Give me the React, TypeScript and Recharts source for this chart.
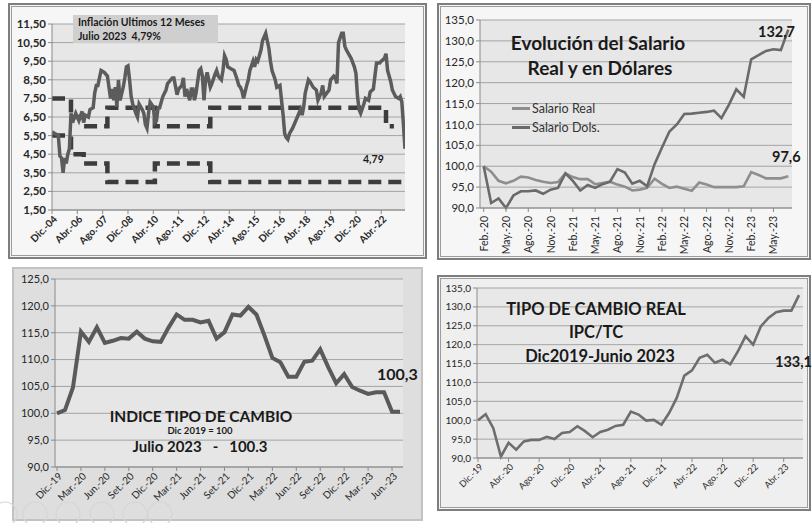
import React from 'react';
import { LineChart, Line, XAxis, YAxis, CartesianGrid, Legend } from 'recharts';

const FONT = 'Lato, "Open Sans", "DejaVu Sans", sans-serif';

// ---------- month category helper ----------
const MONTHS_ES = ['Ene.', 'Feb.', 'Mar.', 'Abr.', 'May.', 'Jun.', 'Jul.', 'Ago.', 'Set.', 'Oct.', 'Nov.', 'Dic.'];
function monthSeq(startMonth: number, startYear: number, count: number): string[] {
  const out: string[] = [];
  for (let k = 0; k < count; k++) {
    const mm = (startMonth + k) % 12;
    const yy = startYear + Math.floor((startMonth + k) / 12);
    out.push(`${MONTHS_ES[mm]}-${String(yy % 100).padStart(2, '0')}`);
  }
  return out;
}

// ---------- Panel A: Inflación últimos 12 meses (month index from Dic-04) ----------
const inflMonthIdx = [0, 2, 4, 5, 6, 7, 8, 9, 10, 11, 12, 13, 15, 17, 19, 20, 21, 23, 24, 26, 27, 28, 29, 31, 33, 35, 37, 38, 39, 40, 41, 42, 43, 45, 46, 47, 48, 49, 50, 51, 53, 54, 55, 57, 58, 59, 60, 61, 62, 64, 65, 66, 67, 68, 70, 72, 73, 76, 77, 79, 80, 82, 83, 84, 85, 87, 88, 89, 90, 91, 93, 94, 95, 96, 97, 98, 100, 101, 103, 104, 105, 107, 108, 109, 110, 111, 113, 115, 117, 118, 119, 120, 121, 123, 124, 125, 127, 128, 129, 130, 132, 133, 135, 136, 137, 138, 139, 141, 142, 144, 145, 146, 147, 148, 149, 150, 152, 155, 157, 158, 159, 160, 162, 163, 165, 167, 168, 170, 171, 172, 175, 176, 178, 179, 180, 181, 183, 184, 185, 186, 188, 189, 191, 192, 193, 194, 195, 197, 198, 200, 201, 203, 204, 205, 207, 208, 210, 211, 212, 214, 215, 217, 219, 220, 221, 222, 223];
const inflValue = [5.7, 5.6, 5.5, 4.4, 4.3, 3.5, 4.3, 4.0, 4.5, 4.8, 6.7, 6.2, 6.7, 6.3, 6.8, 6.2, 6.6, 6.5, 6.9, 7.0, 7.8, 8.2, 8.2, 9.0, 8.9, 8.7, 7.5, 8.0, 7.4, 8.1, 7.05, 8.5, 7.4, 8.1, 8.6, 9.2, 9.25, 8.5, 7.6, 7.2, 6.7, 6.5, 7.2, 6.9, 6.7, 6.1, 5.9, 6.7, 7.3, 7.05, 6.2, 6.3, 7.0, 7.0, 7.6, 7.95, 8.3, 8.6, 8.6, 7.7, 8.0, 8.2, 8.6, 7.6, 8.0, 7.4, 8.0, 8.0, 7.4, 7.8, 9.0, 9.1, 8.7, 7.4, 8.5, 8.9, 8.1, 8.3, 8.8, 9.0, 8.7, 8.5, 9.0, 9.8, 9.6, 9.2, 9.1, 9.0, 8.5, 8.2, 8.1, 7.9, 7.5, 8.2, 8.5, 9.0, 9.5, 9.2, 9.6, 9.5, 10.1, 10.6, 11.0, 10.6, 10.2, 9.5, 9.0, 8.5, 8.1, 8.2, 7.4, 6.6, 5.6, 5.4, 5.3, 5.6, 5.9, 6.5, 6.9, 6.6, 7.05, 7.8, 8.5, 8.4, 8.1, 7.95, 7.4, 7.8, 8.2, 7.6, 7.95, 8.5, 8.7, 8.6, 8.3, 10.5, 11.0, 11.0, 10.3, 10.1, 9.8, 9.65, 9.2, 8.85, 7.6, 6.9, 6.7, 7.2, 7.5, 7.4, 7.85, 8.0, 8.7, 9.4, 9.4, 9.5, 9.65, 9.9, 9.0, 8.4, 7.95, 7.6, 7.5, 7.6, 7.3, 6.1, 4.79];
const targetUpperMonthIdx = [0, 12, 20, 35, 65, 100, 211, 216];
const targetUpperValue = [7.5, 6.5, 6.0, 7.0, 6.0, 7.0, 6.0, 6.0];
const targetLowerMonthIdx = [0, 12, 20, 35, 65, 100, 223];
const targetLowerValue = [5.5, 4.5, 4.0, 3.0, 4.0, 3.0, 3.0];
const inflTickIdx = [0, 16, 32, 48, 64, 80, 96, 112, 128, 144, 160, 176, 192, 208];
const inflTickLabels = ['Dic.-04', 'Abr.-06', 'Ago.-07', 'Dic.-08', 'Abr.-10', 'Ago.-11', 'Dic.-12', 'Abr.-14', 'Ago.-15', 'Dic.-16', 'Abr.-18', 'Ago.-19', 'Dic.-20', 'Abr.-22'];
const inflYTicks = [1.5, 2.5, 3.5, 4.5, 5.5, 6.5, 7.5, 8.5, 9.5, 10.5, 11.5];

// ---------- Panel B: Salario real y en dólares (Feb-20 .. Jul-23) ----------
const salMonths = monthSeq(1, 2020, 42);
const salarioReal = [100, 98.7, 96.5, 95.9, 96.5, 97.5, 97.3, 96.7, 96.3, 96.0, 96.2, 98.3, 97.4, 96.9, 96.9, 95.7, 96.0, 96.3, 95.6, 95.1, 94.2, 94.4, 94.8, 97.0, 95.8, 94.8, 95.1, 94.6, 94.1, 96.1, 95.6, 95.0, 95.0, 95.0, 95.0, 95.2, 98.6, 97.9, 97.1, 97.1, 97.1, 97.6];
const salarioDols = [100, 91.2, 92.3, 90.0, 93.0, 94.0, 94.0, 94.2, 93.4, 94.4, 94.8, 98.3, 96.5, 94.2, 95.5, 94.8, 95.7, 96.3, 99.3, 98.5, 95.8, 96.5, 95.2, 100.5, 104.5, 108.3, 110.0, 112.5, 112.6, 112.8, 113.0, 113.3, 111.5, 114.7, 118.4, 116.6, 125.6, 126.6, 127.6, 128.0, 127.8, 132.7];
const salYTicks = [90, 95, 100, 105, 110, 115, 120, 125, 130, 135];
const salSeriesNames = ['Salario Real', 'Salario Dols.'];

// ---------- Panel C: Indice tipo de cambio (Dic-19 .. Jul-23) ----------
const itcMonths = monthSeq(11, 2019, 44);
const itcValue = [100.0, 100.6, 104.8, 115.2, 113.3, 116.0, 113.1, 113.5, 114.0, 113.9, 115.2, 113.9, 113.4, 113.3, 116.0, 118.4, 117.4, 117.4, 116.9, 117.2, 113.9, 115.1, 118.4, 118.2, 119.8, 118.4, 114.5, 110.3, 109.5, 106.8, 106.8, 109.6, 109.8, 111.9, 108.6, 105.6, 107.3, 104.9, 104.2, 103.6, 103.9, 103.9, 100.3, 100.3];
const itcYTicks = [90, 95, 100, 105, 110, 115, 120, 125];

// ---------- Panel D: Tipo de cambio real (Dic-19 .. Jun-23) ----------
const tcrMonths = monthSeq(11, 2019, 43);
const tcrValue = [100.0, 101.6, 97.9, 90.4, 94.0, 92.2, 94.4, 94.8, 94.8, 95.6, 95.0, 96.6, 96.9, 98.4, 97.1, 95.5, 96.9, 97.5, 98.5, 98.8, 102.3, 101.5, 99.9, 100.1, 98.8, 101.9, 105.9, 111.8, 113.2, 116.5, 117.3, 115.2, 116.0, 114.8, 118.2, 122.2, 120.0, 124.8, 127.1, 128.6, 129.0, 129.0, 133.1];
const tcrYTicks = [90, 95, 100, 105, 110, 115, 120, 125, 130, 135];

// ---------- derived tables ----------
const inflData = inflMonthIdx.map((m, k) => ({ m, v: inflValue[k] }));
const upperData = targetUpperMonthIdx.map((m, k) => ({ m, v: targetUpperValue[k] }));
const lowerData = targetLowerMonthIdx.map((m, k) => ({ m, v: targetLowerValue[k] }));
const salData = salMonths.map((mes, k) => ({ mes, real: salarioReal[k], dols: salarioDols[k] }));
const itcData = itcMonths.map((mes, k) => ({ mes, v: itcValue[k] }));
const tcrData = tcrMonths.map((mes, k) => ({ mes, v: tcrValue[k] }));

const AXIS = '#8a8a8a';
const GRID = '#a4a4a4';

function RotTick(props: any) {
  const { x, y, payload, fs, fw, fmt, dx = 0, dy = 0 } = props;
  const ax = x + dx;
  const ay = y + dy;
  const txt = fmt ? fmt(payload.value) : payload.value;
  return (
    <text x={ax} y={ay} transform={`rotate(-45 ${ax} ${ay})`} textAnchor="end" dominantBaseline="central"
      fontSize={fs} fontWeight={fw} fill="#262626" fontFamily={FONT}>{txt}</text>
  );
}

function VertTick(props: any) {
  const { x, y, payload } = props;
  const ay = y + 2;
  return (
    <text x={x} y={ay} transform={`rotate(-90 ${x} ${ay})`} textAnchor="end" dominantBaseline="central"
      fontSize={10.5} fill="#262626" fontFamily={FONT}>{payload.value}</text>
  );
}

function SalLegend(props: any) {
  const items = [...(props.payload || [])].sort(
    (a: any, b: any) => salSeriesNames.indexOf(a.value) - salSeriesNames.indexOf(b.value));
  return (
    <div style={{ fontFamily: FONT, fontSize: 12.5, color: '#333' }}>
      {items.map((it: any) => (
        <div key={it.value} style={{ display: 'flex', alignItems: 'center', height: 19, whiteSpace: 'nowrap' }}>
          <span style={{ display: 'inline-block', width: 18, height: 3, background: it.color, marginRight: 2 }} />
          {it.value}
        </div>
      ))}
    </div>
  );
}

function Panel({ x, y, w, h, bg, plain }: { x: number; y: number; w: number; h: number; bg: string; plain?: boolean }) {
  return (
    <div style={{
      position: 'absolute', left: x, top: y, width: w, height: h, boxSizing: 'border-box',
      border: plain ? '2px solid #c2c2c2' : '2px solid #7e7e7e', background: bg,
      boxShadow: plain ? 'none' : 'inset 0 0 0 1px #f6f6f6, inset 0 0 0 2px #9c9c9c',
    }} />
  );
}

const fmt2 = (v: number) => v.toFixed(2).replace('.', ',');
const fmt1 = (v: number) => v.toFixed(1).replace('.', ',');

export default function App() {
  return (
    <div style={{ position: 'absolute', left: 0, top: 0, width: 812, height: 523, background: '#ffffff', overflow: 'hidden', fontFamily: FONT }}>
      <Panel x={8} y={3} w={419} h={256} bg="#f6f6f6" />
      <Panel x={437} y={3} w={374} h={257} bg="#f6f6f6" />
      <Panel x={12} y={267} w={411} h={254} bg="#dedede" plain />
      <Panel x={437} y={275} w={374} h={236} bg="#efefef" />

      {/* Panel A */}
      <div style={{ position: 'absolute', left: 8, top: 3 }}>
        <LineChart width={419} height={255} margin={{ top: 21, right: 22, left: 0, bottom: 0 }}>
          <CartesianGrid vertical={false} stroke={GRID} fill="#e7e7e7" fillOpacity={1} />
          <XAxis type="number" dataKey="m" domain={[0, 223]} ticks={inflTickIdx} interval={0} height={48}
            allowDataOverflow stroke={AXIS} tickSize={4}
            tick={(p: any) => <RotTick {...p} fs={10} fw={700} dx={3} dy={1}
              fmt={(v: number) => inflTickLabels[inflTickIdx.indexOf(v)]} />} />
          <YAxis type="number" domain={[1.5, 11.5]} ticks={inflYTicks} interval={0} width={44} stroke={AXIS} tickSize={4}
            tickFormatter={fmt2} tick={{ fontSize: 11.5, fontWeight: 700, fill: '#262626', fontFamily: FONT }} />
          <Line data={upperData} dataKey="v" type="stepAfter" stroke="#3c3c3c" strokeWidth={4.5}
            strokeDasharray="13 7" dot={false} isAnimationActive={false} />
          <Line data={lowerData} dataKey="v" type="stepAfter" stroke="#3c3c3c" strokeWidth={4.5}
            strokeDasharray="13 7" dot={false} isAnimationActive={false} />
          <Line data={inflData} dataKey="v" type="linear" stroke="#5c5c5c" strokeWidth={3.5}
            dot={false} isAnimationActive={false} />
        </LineChart>
      </div>

      {/* Panel B */}
      <div style={{ position: 'absolute', left: 437, top: 3 }}>
        <LineChart width={374} height={257} data={salData} margin={{ top: 17, right: 19, left: 0, bottom: 0 }}>
          <CartesianGrid vertical={false} stroke={GRID} fill="#e7e7e7" fillOpacity={1} />
          <XAxis dataKey="mes" interval={2} height={52} stroke={AXIS} tickSize={4} padding={{ left: 3.7, right: 3.7 }}
            tick={(p: any) => <VertTick {...p} />} />
          <YAxis type="number" domain={[90, 135]} ticks={salYTicks} interval={0} width={43} stroke={AXIS} tickSize={4}
            tickFormatter={fmt1} tick={{ fontSize: 11.5, fill: '#262626', fontFamily: FONT }} />
          <Legend layout="vertical" align="center" verticalAlign="middle" content={SalLegend}
            wrapperStyle={{ left: 75, top: 96, width: 120, height: 40 }} />
          <Line dataKey="real" name="Salario Real" type="linear" stroke="#8e8e8e" strokeWidth={2.6}
            dot={false} isAnimationActive={false} />
          <Line dataKey="dols" name="Salario Dols." type="linear" stroke="#6a6a6a" strokeWidth={2.6}
            dot={false} isAnimationActive={false} />
        </LineChart>
      </div>

      {/* Panel C */}
      <div style={{ position: 'absolute', left: 12, top: 267 }}>
        <LineChart width={411} height={253} data={itcData} margin={{ top: 12, right: 20, left: 0, bottom: 0 }}>
          <CartesianGrid vertical={false} stroke={GRID} fill="#e6e6e6" fillOpacity={1} />
          <XAxis dataKey="mes" interval={2} height={53} stroke={AXIS} tickSize={4} padding={{ left: 2, right: 3 }}
            tick={(p: any) => <RotTick {...p} fs={10} fw={400} dx={3} dy={1} />} />
          <YAxis type="number" domain={[90, 125]} ticks={itcYTicks} interval={0} width={43} stroke={AXIS} tickSize={4}
            tickFormatter={fmt1} tick={{ fontSize: 11, fill: '#262626', fontFamily: FONT }} />
          <Line dataKey="v" type="linear" stroke="#5a5a5a" strokeWidth={4} dot={false} isAnimationActive={false} />
        </LineChart>
      </div>

      {/* Panel D */}
      <div style={{ position: 'absolute', left: 437, top: 275 }}>
        <LineChart width={374} height={235} data={tcrData} margin={{ top: 13, right: 8, left: 0, bottom: 0 }}>
          <CartesianGrid vertical={false} stroke={GRID} fill="#e8e8e8" fillOpacity={1} />
          <XAxis dataKey="mes" interval={3} height={52} stroke={AXIS} tickSize={4} padding={{ left: 1, right: 4 }}
            tick={(p: any) => <RotTick {...p} fs={9} fw={400} dx={3} dy={1} />} />
          <YAxis type="number" domain={[90, 135]} ticks={tcrYTicks} interval={0} width={40} stroke={AXIS} tickSize={4}
            tickFormatter={fmt1} tick={{ fontSize: 10, fill: '#262626', fontFamily: FONT }} />
          <Line dataKey="v" type="linear" stroke="#6e6e6e" strokeWidth={2.6} dot={false} isAnimationActive={false} />
        </LineChart>
      </div>

      {/* Annotation overlay */}
      <svg width={812} height={523} style={{ position: 'absolute', left: 0, top: 0, pointerEvents: 'none' }}
        fontFamily={FONT} fill="#1a1a1a">
        {/* Panel A */}
        <rect x={73} y={15} width={145} height={28} fill="#cfcfcf" />
        <text x={78} y={26.3} fontSize={10.5} fontWeight={700}>Inflación Ultimos 12 Meses</text>
        <text x={78} y={39.8} fontSize={10.5} fontWeight={700} xmlSpace="preserve">Julio 2023  4,79%</text>
        <text x={363} y={163} fontSize={10.5} fontWeight={700}>4,79</text>
        {/* Panel B */}
        <text x={598} y={50} fontSize={19} fontWeight={700} textAnchor="middle">Evolución del Salario</text>
        <text x={600} y={75} fontSize={19} fontWeight={700} textAnchor="middle">Real y en Dólares</text>
        <text x={758} y={37} fontSize={14.5} fontWeight={700}>132,7</text>
        <text x={772} y={162} fontSize={14.5} fontWeight={700}>97,6</text>
        {/* Panel C */}
        <text x={201} y={421.5} fontSize={15.5} fontWeight={700} textAnchor="middle">INDICE TIPO DE CAMBIO</text>
        <text x={200} y={433.5} fontSize={9.5} fontWeight={700} textAnchor="middle">Dic 2019 = 100</text>
        <text x={200} y={451.7} fontSize={15} fontWeight={700} textAnchor="middle" xmlSpace="preserve">Julio 2023   -   100.3</text>
        <text x={377} y={380} fontSize={16} fontWeight={700}>100,3</text>
        {/* Panel D */}
        <text x={596} y={315} fontSize={16.5} fontWeight={700} textAnchor="middle">TIPO DE CAMBIO REAL</text>
        <text x={596} y={338} fontSize={16.5} fontWeight={700} textAnchor="middle">IPC/TC</text>
        <text x={600} y={361.7} fontSize={16.5} fontWeight={700} textAnchor="middle">Dic2019-Junio 2023</text>
        <text x={775} y={366.7} fontSize={14.5} fontWeight={700}>133,1</text>
        {/* faint slideshow controls */}
        {[5, 35, 68, 102, 135, 160].map((cx) => (
          <circle key={cx} cx={cx} cy={514} r={12} fill="none" stroke="#d6d6d6" strokeWidth={1.2} />
        ))}
      </svg>
    </div>
  );
}
